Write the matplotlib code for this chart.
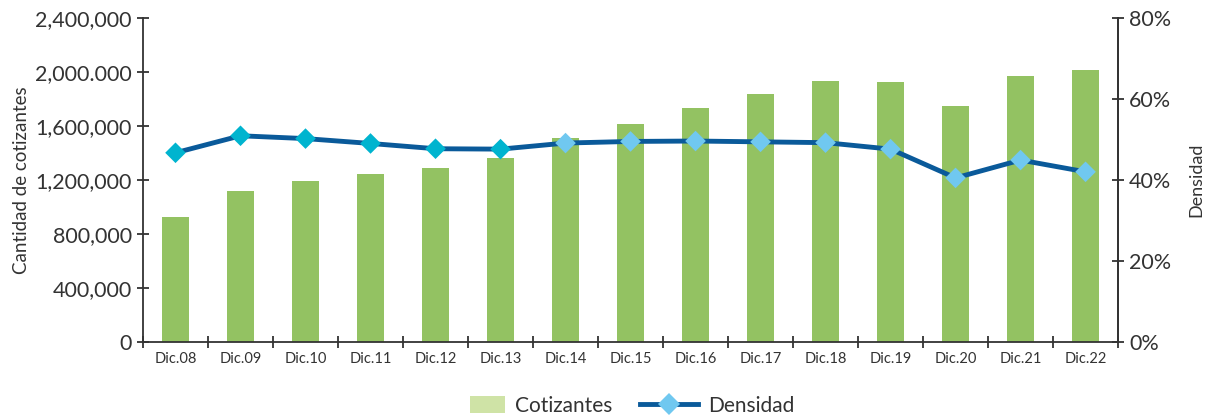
import matplotlib.pyplot as plt
from matplotlib.lines import Line2D
from matplotlib.patches import Patch, Rectangle
from matplotlib.legend_handler import HandlerPatch
import numpy as np

# data
years = ["Dic.08", "Dic.09", "Dic.10", "Dic.11", "Dic.12", "Dic.13", "Dic.14", "Dic.15",
         "Dic.16", "Dic.17", "Dic.18", "Dic.19", "Dic.20", "Dic.21", "Dic.22"]
cotizantes = [925000, 1120000, 1193000, 1244000, 1289000, 1363000, 1511000, 1615000,
              1733000, 1837000, 1933000, 1926000, 1748000, 1970000, 2015000]
densidad = [46.7, 50.9, 50.2, 49.0, 47.7, 47.6, 49.1, 49.5,
            49.6, 49.4, 49.2, 47.6, 40.5, 44.9, 42.0]
left_ticks = [0, 400000, 800000, 1200000, 1600000, 2000000, 2400000]
left_labels = ["0", "400,000", "800,000", "1,200,000", "1,600,000", "2,000.000", "2,400,000"]
right_ticks = [0, 20, 40, 60, 80]

plt.rcParams['font.family'] = ['Lato', 'DejaVu Sans']
txt = "#333333"

fig = plt.figure(figsize=(12.17, 4.16), dpi=100)
ax = fig.add_axes([0.1175, 0.178, 0.8012, 0.779])
x = np.arange(len(years))

ax.bar(x, cotizantes, width=0.42, color="#93C262", zorder=2)
ax.set_xlim(-0.5, len(years) - 0.5)
ax.set_ylim(0, 2400000)
ax.set_yticks(left_ticks)
ax.set_yticklabels(left_labels)
ax.set_ylabel("Cantidad de cotizantes", fontsize=13.5, color=txt, labelpad=4)
ax.tick_params(axis='y', direction='inout', length=8, width=1.3, labelsize=15.5,
               colors=txt, pad=4)

# x ticks at the category boundaries, labels at centres
ax.set_xticks(x)
ax.set_xticklabels(years)
ax.set_xticks(np.arange(-0.5, len(years)), minor=True)
ax.tick_params(axis='x', which='major', length=0, labelsize=10.5, colors=txt, pad=7)
ax.tick_params(axis='x', which='minor', direction='inout', length=8, width=1.3, color=txt)

for s in ["left", "bottom", "right"]:
    ax.spines[s].set_color(txt)
    ax.spines[s].set_linewidth(1.3)
ax.spines["top"].set_visible(False)

ax2 = ax.twinx()
ax2.set_ylim(0, 80)
ax2.set_yticks(right_ticks)
ax2.set_yticklabels([f"{t}%" for t in right_ticks])
ax2.tick_params(axis='y', direction='inout', length=8, width=1.3, labelsize=15.5,
                colors=txt, pad=4)
ax2.set_ylabel("Densidad", fontsize=13, color=txt, labelpad=12)
for s in ["left", "bottom", "top"]:
    ax2.spines[s].set_visible(False)
ax2.spines["right"].set_color(txt)
ax2.spines["right"].set_linewidth(1.3)

ax2.plot(x, densidad, color="#0A5A9A", linewidth=3.5, zorder=3)
mcolors = ["#00B4CF"] * 6 + ["#70C8F0"] * 9
ax2.scatter(x, densidad, marker="D", s=110, c=mcolors, zorder=4, linewidths=0)


# narrower swatch for the bar entry
def small_rect(legend, orig_handle, xdescent, ydescent, width, height, fontsize):
    w = width * 0.6
    return Rectangle((xdescent + width - w, -ydescent), w, height)


handles = [Patch(facecolor="#CFE3A6", edgecolor="none"),
           Line2D([0], [0], color="#0A5A9A", linewidth=3.5, marker="D",
                  markersize=11, markerfacecolor="#70C8F0", markeredgewidth=0)]
fig.legend(handles, ["Cotizantes", "Densidad"], loc="lower center",
           bbox_to_anchor=(0.51, -0.045), ncol=2, frameon=False, fontsize=15,
           handlelength=2.8, handleheight=0.9, handletextpad=0.5,
           columnspacing=1.3, labelcolor=txt,
           handler_map={Patch: HandlerPatch(patch_func=small_rect)})

fig.savefig("out.png", dpi=100)
